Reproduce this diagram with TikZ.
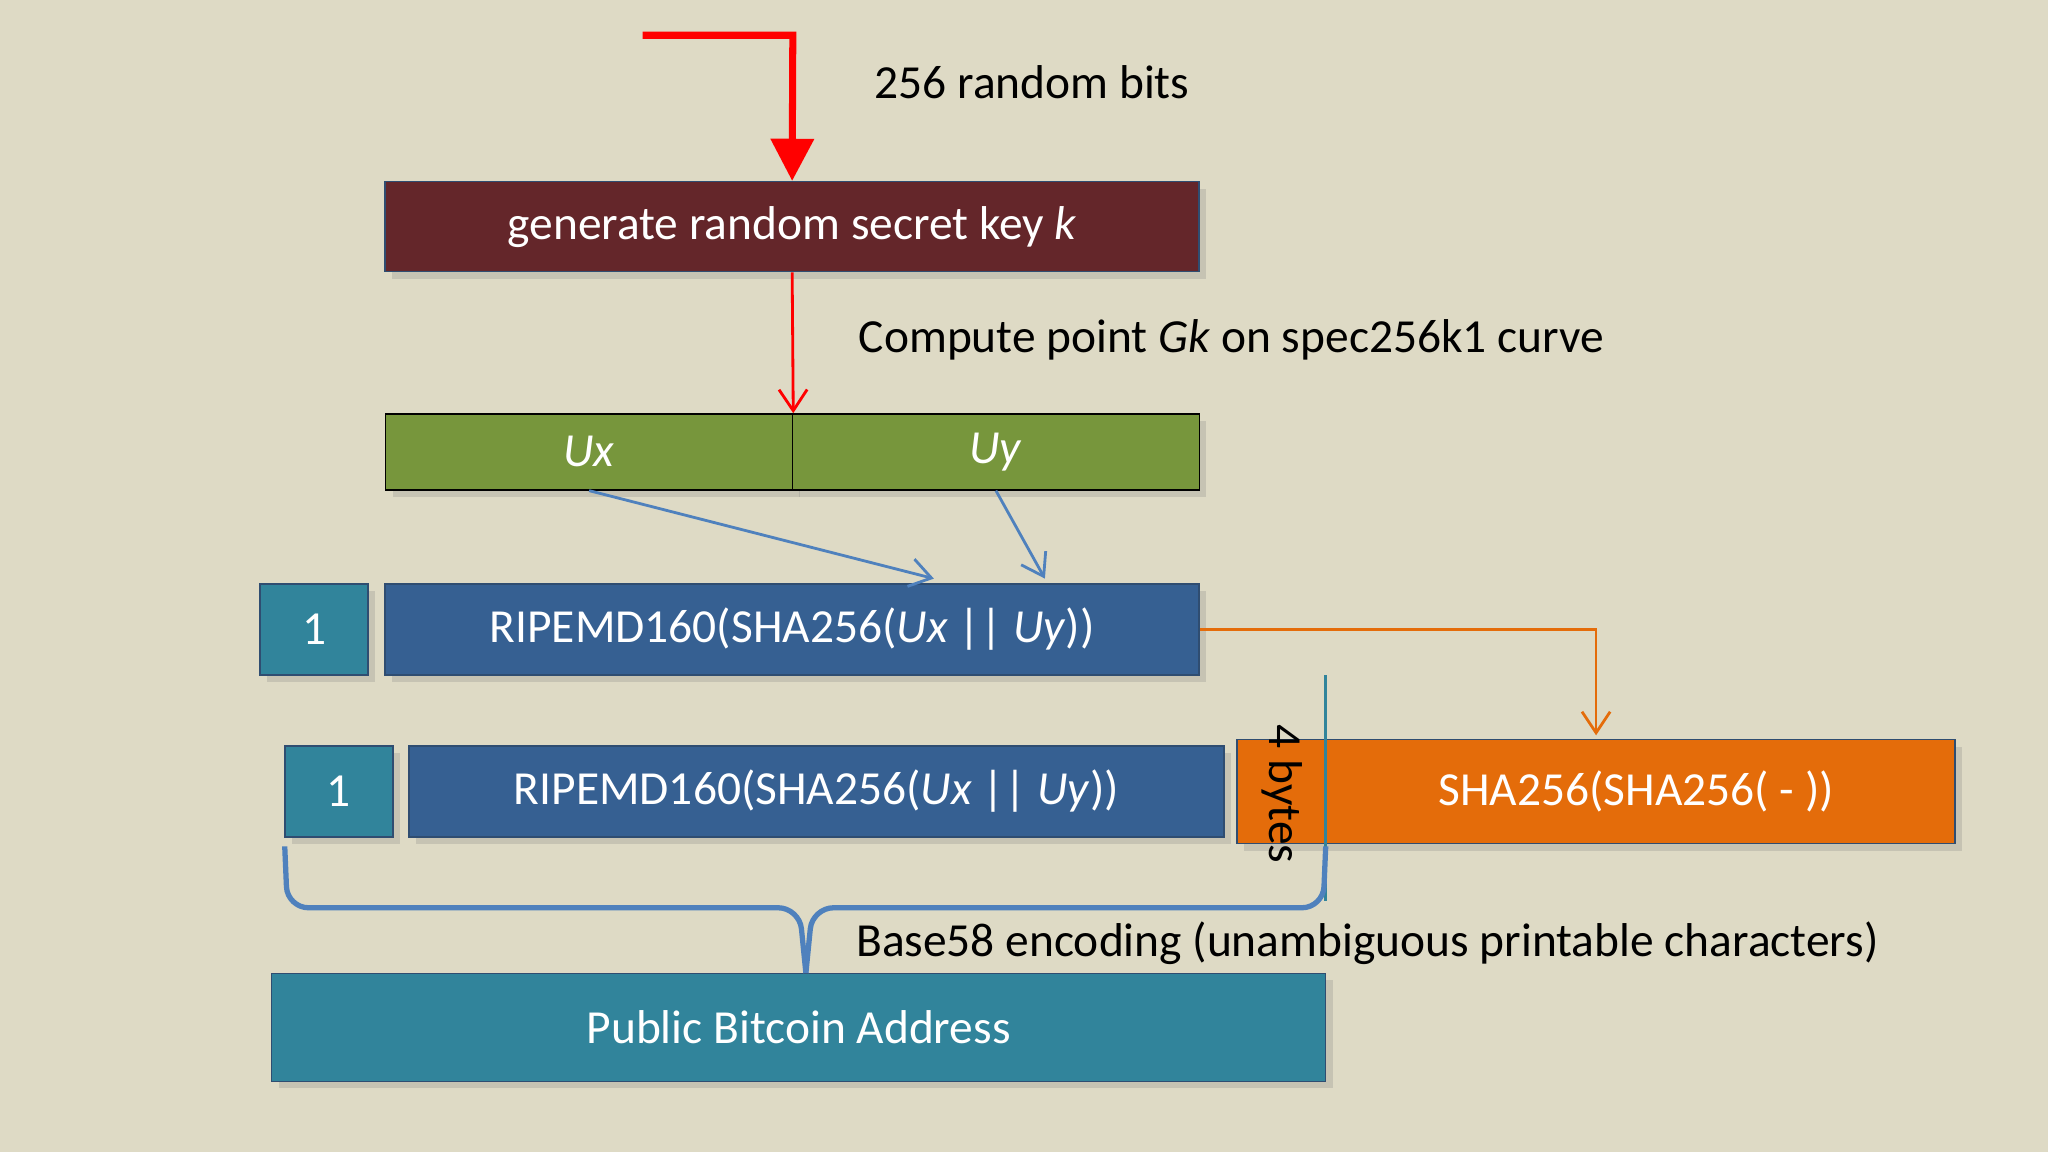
\documentclass[tikz,border=0pt]{standalone}
\usepackage{fontspec}
\setmainfont{Carlito}
\usetikzlibrary{arrows.meta,shadows}
\definecolor{bgbeige}{HTML}{DEDAC5}
\definecolor{keyred}{HTML}{64262A}
\definecolor{ugreen}{HTML}{77963C}
\definecolor{ripblue}{HTML}{366092}
\definecolor{oneteal}{HTML}{31849B}
\definecolor{shaorange}{HTML}{E46C0A}
\definecolor{linkblue}{HTML}{4F81BD}
\begin{document}
\begin{tikzpicture}[x=0.01306cm,y=-0.01306cm,
    block/.style={draw=linkblue!60!black,rectangle,inner sep=0pt,text=white,
      font=\fontsize{13.5}{16}\selectfont,drop shadow={opacity=0.25,shadow xshift=2pt,shadow yshift=-2pt}},
    label/.style={font=\fontsize{13.5}{16}\selectfont,inner sep=0pt}]
  % Background
  \fill[bgbeige] (0,0) rectangle (1568,882);
  \useasboundingbox (0,0) rectangle (1568,882);

  % Key generation
  \coordinate (start) at (492,27);
  \coordinate (bend) at (607,27);
  \node[block,fill=keyred,minimum width=8.14cm,minimum height=0.90cm] (key) at (606.5,173.5)
    {generate random secret key \textit{k}};
  \draw[red,line width=2pt,-{Triangle[length=12pt,width=12pt]}] (start) -- (bend) -- (key.north);
  \node[label,anchor=west] (bits) at (669,63) {256 random bits};

  % Curve point
  \node[block,draw=black,fill=ugreen,minimum width=4.07cm,minimum height=0.76cm,drop shadow={opacity=0}] (ux) at (451,346) {\textit{Ux}};
  \node[block,draw=black,fill=ugreen,minimum width=4.07cm,minimum height=0.76cm,drop shadow={opacity=0}] (uy) at (762.5,346) {\textit{Uy}};
  \draw[red,thick,-{Straight Barb[length=6pt,width=8pt]}] (key.south) -- (ux.north east);
  \node[label,anchor=west] (curve) at (657,260) {Compute point \textit{Gk} on spec256k1 curve};

  % Hash rows
  \node[block,fill=oneteal,minimum width=1.08cm,minimum height=0.91cm] (one1) at (240.5,482) {1};
  \node[block,fill=ripblue,minimum width=8.14cm,minimum height=0.91cm] (rip1) at (606.5,482)
    {RIPEMD160(SHA256(\textit{Ux} || \textit{Uy}))};
  \node[block,fill=oneteal,minimum width=1.08cm,minimum height=0.91cm] (one2) at (259.5,606) {1};
  \node[block,fill=ripblue,minimum width=8.15cm,minimum height=0.91cm] (rip2) at (625,606)
    {RIPEMD160(SHA256(\textit{Ux} || \textit{Uy}))};
  \node[block,fill=shaorange,minimum width=7.18cm,minimum height=1.04cm] (sha) at (1222,606)
    {\hspace*{0.8cm}SHA256(SHA256( - ))};
  \node[label,rotate=-90] (bytes) at (982,608) {4 bytes};
  \coordinate (ripux) at (715,443);
  \coordinate (ripuy) at (800,443);
  \draw[linkblue,thick,-{Straight Barb[length=6pt,width=8pt]}] (ux.south) -- (ripux);
  \draw[linkblue,thick,-{Straight Barb[length=6pt,width=8pt]}] (uy.south) -- (ripuy);
  \coordinate (shatop) at (1222,563);
  \draw[shaorange,thick,-{Straight Barb[length=6pt,width=8pt]}] (rip1.east) -| (shatop);
  \coordinate (cuttop) at (1015,517);
  \coordinate (cutbot) at (1015,690);
  \draw[oneteal,thick] (cuttop) -- (cutbot);

  % Base58 brace
  \node[block,fill=oneteal,minimum width=10.54cm,minimum height=1.08cm] (addr) at (611.5,786.5)
    {Public Bitcoin Address};
  \coordinate (brl) at (218,648);
  \coordinate (brr) at (1015,648);
  \draw[linkblue,line width=1.5pt,rounded corners=6pt] (brl) -- (220,695) -- (612,695) -- (617,745);
  \draw[linkblue,line width=1.5pt,rounded corners=6pt] (brr) -- (1013,695) -- (622,695) -- (617,745);
  \node[label,anchor=west] (base58) at (655,722) {Base58 encoding (unambiguous printable characters)};
\end{tikzpicture}
\end{document}
